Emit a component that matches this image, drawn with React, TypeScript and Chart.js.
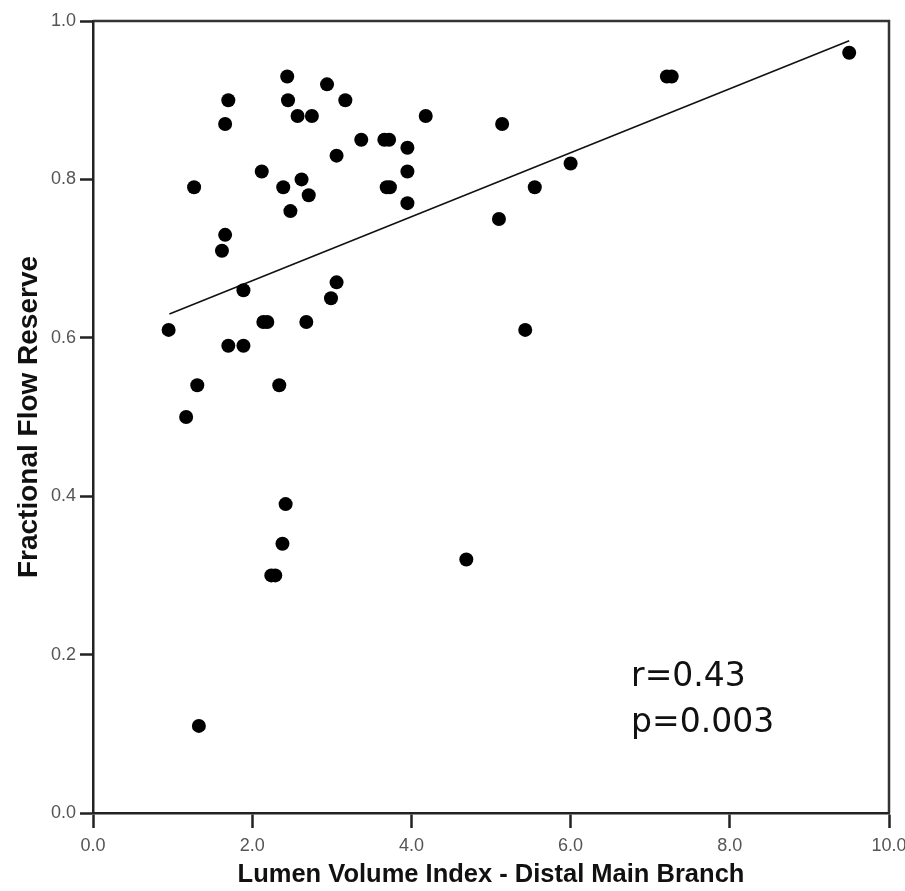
import React, { useEffect, useRef } from "react";
import { Chart, registerables } from "chart.js";

Chart.register(...registerables);

// Lumen Volume Index - Distal Main Branch (x) vs Fractional Flow Reserve (y)
const lumenVolumeIndex: number[] = [
  2.44, 2.94, 1.70, 2.45, 3.17, 2.57, 2.75, 1.66, 4.18, 3.37,
  3.66, 3.72, 3.95, 3.06, 2.12, 3.95, 1.27, 2.39, 2.62, 3.69,
  3.73, 2.71, 2.48, 3.95, 1.66, 1.62, 3.06, 2.99, 1.89, 0.95,
  2.14, 2.19, 2.68, 1.70, 1.89, 1.31, 2.34, 1.17, 2.42, 2.38,
  2.24, 2.29, 4.69, 1.33, 9.50, 7.21, 7.27, 5.14, 6.00, 5.55,
  5.10, 5.43,
];
const fractionalFlowReserve: number[] = [
  0.93, 0.92, 0.90, 0.90, 0.90, 0.88, 0.88, 0.87, 0.88, 0.85,
  0.85, 0.85, 0.84, 0.83, 0.81, 0.81, 0.79, 0.79, 0.80, 0.79,
  0.79, 0.78, 0.76, 0.77, 0.73, 0.71, 0.67, 0.65, 0.66, 0.61,
  0.62, 0.62, 0.62, 0.59, 0.59, 0.54, 0.54, 0.50, 0.39, 0.34,
  0.30, 0.30, 0.32, 0.11, 0.96, 0.93, 0.93, 0.87, 0.82, 0.79,
  0.75, 0.61,
];

// Regression line end points
const fitX: number[] = [0.96, 9.5];
const fitY: number[] = [0.63, 0.975];

const xTickValues: number[] = [0, 2, 4, 6, 8, 10];
const yTickValues: number[] = [0, 0.2, 0.4, 0.6, 0.8, 1.0];

const statLabels: string[] = ["r=0.43", "p=0.003"];
const statAnchorX = 6.76;
const statAnchorY: number[] = [0.16, 0.102];

const xTitle = "Lumen Volume Index - Distal Main Branch";
const yTitle = "Fractional Flow Reserve";

const AXIS_COLOR = "#222";
const TICK_FONT = { family: "'Liberation Sans', Arial, sans-serif", size: 18 };

export default function App() {
  const canvasRef = useRef<HTMLCanvasElement>(null);

  useEffect(() => {
    const canvas = canvasRef.current;
    if (!canvas) return;

    const points = lumenVolumeIndex.map((x, i) => ({ x, y: fractionalFlowReserve[i] }));
    const fitPoints = fitX.map((x, i) => ({ x, y: fitY[i] }));

    const boxPlugin = {
      id: "frameBox",
      beforeDatasetsDraw(chart: any) {
        const { ctx, chartArea } = chart;
        ctx.save();
        ctx.strokeStyle = "#333";
        ctx.lineWidth = 2.5;
        ctx.beginPath();
        ctx.moveTo(chartArea.left, chartArea.top);
        ctx.lineTo(chartArea.right, chartArea.top);
        ctx.lineTo(chartArea.right, chartArea.bottom);
        ctx.stroke();
        ctx.restore();
      },
    };

    const statPlugin = {
      id: "statText",
      afterDraw(chart: any) {
        const { ctx, scales } = chart;
        ctx.save();
        ctx.fillStyle = "#111";
        ctx.font = "33px 'DejaVu Sans', sans-serif";
        ctx.textAlign = "left";
        ctx.textBaseline = "alphabetic";
        statLabels.forEach((t, i) => {
          ctx.fillText(t, scales.x.getPixelForValue(statAnchorX), scales.y.getPixelForValue(statAnchorY[i]));
        });
        ctx.restore();
      },
    };

    const chart = new Chart(canvas, {
      type: "scatter",
      data: {
        datasets: [
          {
            label: "FFR",
            data: points,
            backgroundColor: "#000",
            borderColor: "#000",
            pointRadius: 7,
            pointHoverRadius: 7,
            borderWidth: 0,
            order: 1,
          },
          {
            label: "Fit",
            data: fitPoints,
            showLine: true,
            borderColor: "#111",
            borderWidth: 1.6,
            pointRadius: 0,
            fill: false,
            order: 2,
          } as any,
        ],
      },
      options: {
        responsive: false,
        animation: false,
        devicePixelRatio: 1,
        layout: { padding: { left: 0, top: 21, right: 16, bottom: 0 } },
        plugins: {
          legend: { display: false },
          tooltip: { enabled: false },
        },
        scales: {
          x: {
            type: "linear",
            position: "bottom",
            min: 0,
            max: 10,
            afterBuildTicks: (scale: any) => {
              scale.ticks = xTickValues.map((v) => ({ value: v }));
            },
            afterFit: (scale: any) => {
              scale.height = 78;
              scale.paddingLeft = 0;
              scale.paddingRight = 0;
            },
            ticks: {
              callback: (v: any) => Number(v).toFixed(1),
              color: "#555",
              font: TICK_FONT,
              padding: 7,
              maxRotation: 0,
            },
            grid: {
              display: true,
              drawOnChartArea: false,
              drawTicks: true,
              tickLength: 15,
              tickColor: AXIS_COLOR,
              tickWidth: 2.5,
            },
            border: { display: true, color: AXIS_COLOR, width: 2.5 },
            title: {
              display: true,
              text: xTitle,
              color: "#111",
              font: { family: "'Liberation Sans', Arial, sans-serif", size: 25.5, weight: "bold" },
              padding: { top: 0, bottom: 1 },
            },
          },
          y: {
            type: "linear",
            position: "left",
            min: 0,
            max: 1,
            afterBuildTicks: (scale: any) => {
              scale.ticks = yTickValues.map((v) => ({ value: v }));
            },
            afterFit: (scale: any) => {
              scale.width = 93;
              scale.paddingTop = 0;
              scale.paddingBottom = 0;
            },
            ticks: {
              callback: (v: any) => Number(v).toFixed(1),
              color: "#555",
              font: TICK_FONT,
              padding: 4,
            },
            grid: {
              display: true,
              drawOnChartArea: false,
              drawTicks: true,
              tickLength: 13,
              tickColor: AXIS_COLOR,
              tickWidth: 2.5,
            },
            border: { display: true, color: AXIS_COLOR, width: 2.5 },
            title: {
              display: true,
              text: yTitle,
              color: "#111",
              font: { family: "'Liberation Sans', Arial, sans-serif", size: 28, weight: "bold" },
              padding: { top: 12, bottom: 0 },
            },
          },
        },
      } as any,
      plugins: [boxPlugin, statPlugin],
    });

    return () => chart.destroy();
  }, []);

  return (
    <div style={{ position: "absolute", left: 0, top: 0, width: 905, height: 891, background: "#fff" }}>
      <canvas ref={canvasRef} width={905} height={891} style={{ display: "block", width: 905, height: 891 }} />
    </div>
  );
}
